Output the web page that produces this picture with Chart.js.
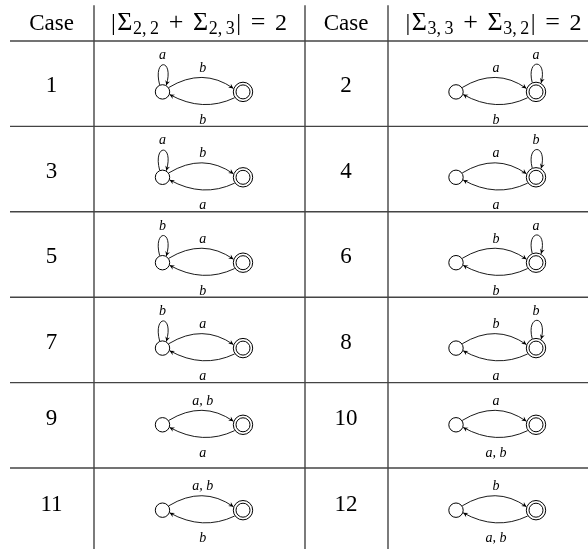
<!DOCTYPE html>
<html>
<head>
<meta charset="utf-8">
<script src="https://cdn.jsdelivr.net/npm/chart.js@4"></script>
<style>
  html, body { margin: 0; padding: 0; background: #fff; }
  #wrap { width: 588px; height: 549px; }
</style>
</head>
<body>
<div id="wrap"><canvas id="automata" width="588" height="549"></canvas></div>
<script>
// table contents: one entry per case
var caseNumbers = [1, 2, 3, 4, 5, 6, 7, 8, 9, 10, 11, 12];
var loopState = ['start', 'accept', 'start', 'accept', 'start', 'accept', 'start', 'accept', null, null, null, null];
var loopLabels = ['a', 'a', 'a', 'b', 'b', 'a', 'b', 'b', '', '', '', ''];
var forwardLabels = ['b', 'a', 'b', 'a', 'a', 'b', 'a', 'b', 'a, b', 'a', 'a, b', 'b'];
var backLabels = ['b', 'b', 'a', 'a', 'b', 'b', 'a', 'a', 'a', 'a, b', 'b', 'a, b'];
var headerCase = 'Case';
var headerSubscripts = [['2,2', '2,3'], ['3,3', '3,2']];
var headerValue = '2';

// layout (x in px units, y in table rows)
var ROW_H = 85.4, HEAD_H = 41;
var TABLE_LEFT = 10, TABLE_TOP = -0.42, HEADER_BASE = -0.13;
var COL_RULES = [94, 305, 388];
var CASE_X = [51.5, 346];
var FORMULA_X = [111, 405.5];
var FORMULA_W = 176;
var START_X = [162.5, 456];
var ACCEPT_X = [243, 536];
var SERIF = '"Liberation Serif", "DejaVu Serif", serif';

function rowOf(i) { return Math.floor(i / 2); }
function colOf(i) { return i % 2; }
function stateY(i) { return rowOf(i) + (loopState[i] ? 0.596 : 0.494); }

var startPoints = caseNumbers.map(function(c, i) { return {x: START_X[colOf(i)], y: stateY(i)}; });
var acceptPoints = caseNumbers.map(function(c, i) { return {x: ACCEPT_X[colOf(i)], y: stateY(i)}; });

function arrowHead(ctx, tx, ty, dx, dy) {
  var len = Math.hypot(dx, dy), ux = dx / len, uy = dy / len;
  var L = 4.8, W = 2.4;
  var bx = tx - ux * L, by = ty - uy * L;
  ctx.beginPath();
  ctx.moveTo(tx, ty);
  ctx.lineTo(bx - uy * W, by + ux * W);
  ctx.lineTo(tx - ux * L * 0.65, ty - uy * L * 0.65);
  ctx.lineTo(bx + uy * W, by - ux * W);
  ctx.closePath();
  ctx.fill();
}

// |Σ_{i,j} + Σ_{i,k}| = 2, spaces around + and = stretched to the formula width
function drawFormula(ctx, x, y, subs) {
  var big = '24px ' + SERIF, op = '26px ' + SERIF, sig = '26px ' + SERIF, small = '18px ' + SERIF;
  function sub(s) { return s.replace(',', ',\u2009'); }
  // [text, font, fixed gap before, stretchable gap before (0/1), baseline shift]
  var parts = [
    ['|', big, 0, 0, 0], ['\u03A3', sig, 1.5, 0, 0], [sub(subs[0]), small, 0.5, 0, 4],
    ['+', op, 0, 1, 0], ['\u03A3', sig, 0, 1, 0], [sub(subs[1]), small, 0.5, 0, 4],
    ['|', big, 1.5, 0, 0], ['=', op, 0, 1, 0], [headerValue, big, 0, 1, 0]
  ];
  var natural = 0, stretch = 0;
  parts.forEach(function(p) {
    ctx.font = p[1];
    natural += p[2] + ctx.measureText(p[0]).width;
    stretch += p[3];
  });
  var g = Math.max(2, (FORMULA_W - natural) / stretch);
  ctx.textAlign = 'left';
  parts.forEach(function(p) {
    ctx.font = p[1];
    x += p[2] + p[3] * g;
    ctx.fillText(p[0], x, y + p[4]);
    x += ctx.measureText(p[0]).width;
  });
}

var tablePlugin = {
  id: 'tableDraw',
  beforeDatasetsDraw: function(chart) {
    var ctx = chart.ctx, xs = chart.scales.x, ys = chart.scales.y;
    ctx.save();
    ctx.strokeStyle = '#444';
    ctx.lineWidth = 1.4;
    for (var r = 0; r < 6; r++) {
      var y = ys.getPixelForValue(r);
      ctx.beginPath();
      ctx.moveTo(xs.getPixelForValue(TABLE_LEFT), y);
      ctx.lineTo(xs.getPixelForValue(xs.max), y);
      ctx.stroke();
    }
    COL_RULES.forEach(function(cx) {
      var x = xs.getPixelForValue(cx);
      ctx.beginPath();
      ctx.moveTo(x, ys.getPixelForValue(TABLE_TOP));
      ctx.lineTo(x, ys.getPixelForValue(ys.max));
      ctx.stroke();
    });

    // header
    ctx.fillStyle = '#000';
    ctx.textBaseline = 'alphabetic';
    var hy = ys.getPixelForValue(HEADER_BASE);
    for (var c = 0; c < 2; c++) {
      ctx.font = '23px ' + SERIF;
      ctx.textAlign = 'center';
      ctx.fillText(headerCase, xs.getPixelForValue(CASE_X[c]), hy);
      drawFormula(ctx, xs.getPixelForValue(FORMULA_X[c]), hy, headerSubscripts[c]);
    }

    // case numbers
    caseNumbers.forEach(function(n, i) {
      ctx.font = '23px ' + SERIF;
      ctx.textAlign = 'center';
      ctx.fillText(String(n), xs.getPixelForValue(CASE_X[colOf(i)]), ys.getPixelForValue(stateY(i)) + 0.5);
    });

    // transitions
    ctx.lineWidth = 0.9;
    ctx.strokeStyle = '#000';
    var d35 = 35 * Math.PI / 180, d20 = 20 * Math.PI / 180;
    caseNumbers.forEach(function(n, i) {
      var sx = xs.getPixelForValue(START_X[colOf(i)]);
      var ax = xs.getPixelForValue(ACCEPT_X[colOf(i)]);
      var cy = ys.getPixelForValue(stateY(i));
      var rS = 7.6, rA = 10.2, mx = (sx + ax) / 2;

      // start -> accept (upper arc)
      var p0x = sx + rS * Math.cos(d35), p0y = cy - rS * Math.sin(d35);
      var p2x = ax - rA * Math.cos(d20), p2y = cy - rA * Math.sin(d20);
      var qy = cy - 25;
      ctx.beginPath();
      ctx.moveTo(p0x, p0y);
      ctx.quadraticCurveTo(mx, qy, p2x, p2y);
      ctx.stroke();
      arrowHead(ctx, p2x, p2y, p2x - mx, p2y - qy);

      // accept -> start (lower arc)
      p0x = ax - rA * Math.cos(d35); p0y = cy + rA * Math.sin(d35);
      p2x = sx + rS * Math.cos(d20); p2y = cy + rS * Math.sin(d20);
      qy = cy + 21;
      ctx.beginPath();
      ctx.moveTo(p0x, p0y);
      ctx.quadraticCurveTo(mx, qy, p2x, p2y);
      ctx.stroke();
      arrowHead(ctx, p2x, p2y, p2x - mx, p2y - qy);

      ctx.font = 'italic 14px ' + SERIF;
      ctx.textAlign = 'center';

      // self loop
      if (loopState[i]) {
        var lx = loopState[i] === 'start' ? sx : ax;
        var r = loopState[i] === 'start' ? rS : rA;
        var a0 = 112 * Math.PI / 180, a1 = 60 * Math.PI / 180;
        var l0x = lx + r * Math.cos(a0), l0y = cy - r * Math.sin(a0);
        var l3x = lx + r * Math.cos(a1), l3y = cy - r * Math.sin(a1);
        var c1x = lx - 10, c2x = lx + 12, cyy = cy - 34;
        ctx.beginPath();
        ctx.moveTo(l0x, l0y);
        ctx.bezierCurveTo(c1x, cyy, c2x, cyy, l3x, l3y);
        ctx.stroke();
        arrowHead(ctx, l3x, l3y, l3x - c2x, l3y - cyy);
        ctx.fillText(loopLabels[i], lx, cy - 33);
      }

      ctx.fillText(forwardLabels[i], mx, cy - 20);
      ctx.fillText(backLabels[i], mx, cy + 32);
    });
    ctx.restore();
  }
};

var chart = new Chart('automata', {
  type: 'scatter',
  data: {
    datasets: [
      {
        label: 'start state',
        data: startPoints,
        pointRadius: 7.2,
        pointHoverRadius: 7.2,
        pointBorderWidth: 1,
        pointBorderColor: '#000',
        pointBackgroundColor: '#fff'
      },
      {
        label: 'accepting state',
        data: acceptPoints,
        pointRadius: 7,
        pointHoverRadius: 7,
        pointBorderWidth: 1,
        pointBorderColor: '#000',
        pointBackgroundColor: '#fff'
      },
      {
        label: 'accepting ring',
        data: acceptPoints,
        pointRadius: 9.7,
        pointHoverRadius: 9.7,
        pointBorderWidth: 1,
        pointBorderColor: '#000',
        pointBackgroundColor: 'rgba(0,0,0,0)'
      }
    ]
  },
  options: {
    responsive: false,
    animation: false,
    events: [],
    devicePixelRatio: 1,
    layout: { padding: 0, autoPadding: false },
    clip: false,
    scales: {
      x: { type: 'linear', display: false, min: 0, max: 588 },
      y: { type: 'linear', display: false, reverse: true,
           min: -HEAD_H / ROW_H, max: (549 - HEAD_H) / ROW_H }
    },
    plugins: { legend: { display: false }, tooltip: { enabled: false } }
  },
  plugins: [tablePlugin]
});
</script>
</body>
</html>
